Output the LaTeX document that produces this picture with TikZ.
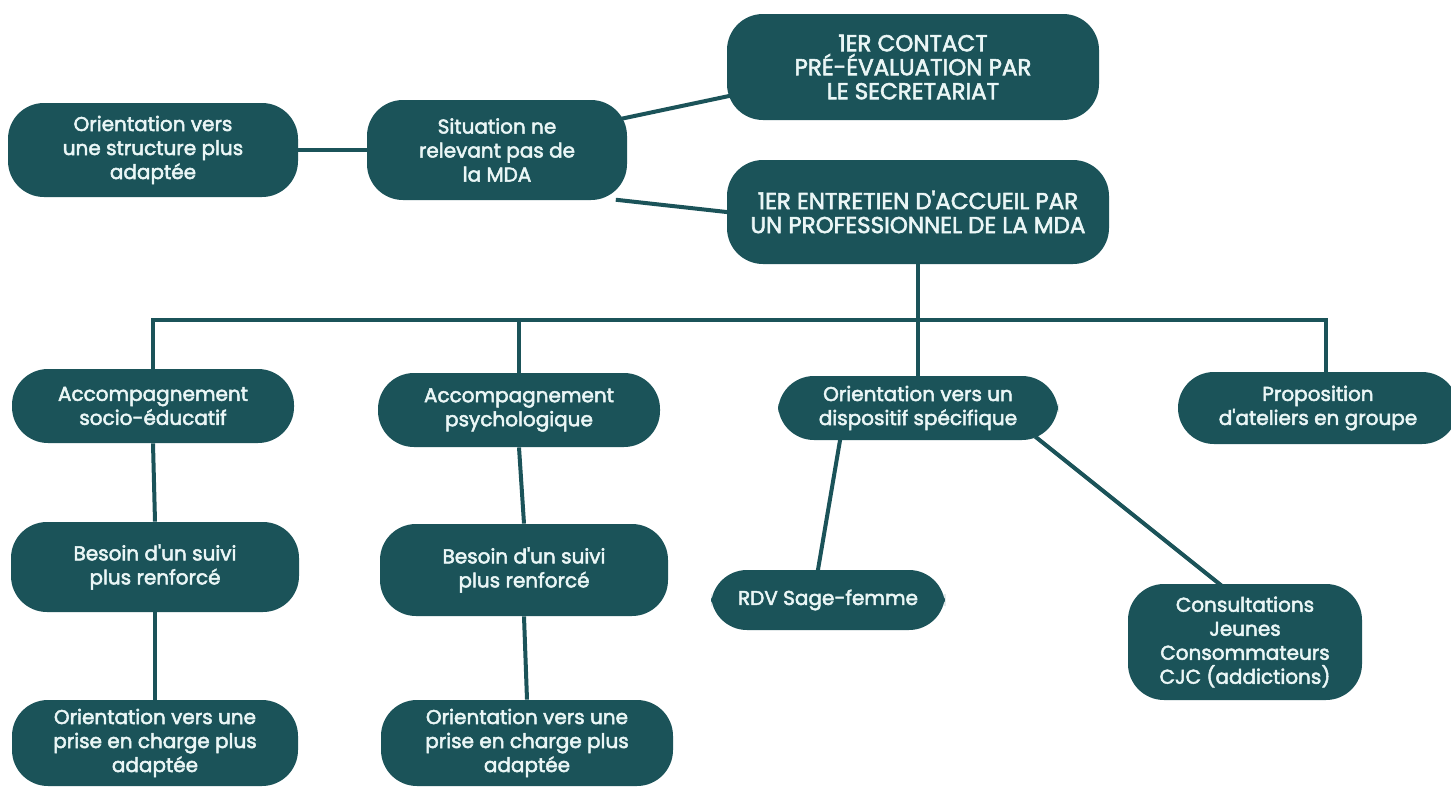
\documentclass[tikz,border=0pt]{standalone}
\usepackage{fontspec}
\setmainfont{Poppins}
\newfontfamily\etapefont{Poppins}[FakeBold=2.5]
\usetikzlibrary{backgrounds}
\definecolor{mdateal}{HTML}{1B5359}
\definecolor{mdatext}{HTML}{EAF6F6}

\begin{document}
\begin{tikzpicture}[x=0.5pt,y=-0.5pt,
    etape/.style={fill=mdateal, rounded corners=18pt, text=mdatext, align=center,
        font=\etapefont\fontsize{10}{12}\selectfont, inner sep=0pt},
    titre/.style={etape, font=\etapefont\fontsize{11.5}{12}\selectfont},
    lien/.style={draw=mdateal, line width=2pt},
    biais/.style={lien, shorten <=-3pt, shorten >=-3pt}]
    \useasboundingbox (0,0) rectangle (1451,787);
    %% haut
    \node[titre, minimum width=186pt, minimum height=53pt] (contact) at (913,67)
        {1ER CONTACT\\PRÉ-ÉVALUATION PAR\\LE SECRETARIAT};
    \node[etape, minimum width=130pt, minimum height=50pt] (situation) at (497,150)
        {Situation ne\\relevant pas de\\la MDA};
    \node[etape, minimum width=145pt, minimum height=47pt] (structure) at (153,150)
        {Orientation vers\\une structure plus\\adaptée};
    \node[titre, minimum width=191pt, minimum height=52pt] (entretien) at (918,212)
        {1ER ENTRETIEN D'ACCUEIL PAR\\UN PROFESSIONNEL DE LA MDA};
    \coordinate (bus) at (918,320);
    %% ligne 2
    \node[etape, minimum width=141pt, minimum height=37pt] (socio) at (153,406)
        {Accompagnement\\socio-éducatif};
    \node[etape, minimum width=141pt, minimum height=37pt] (psycho) at (519,410)
        {Accompagnement\\psychologique};
    \node[etape, minimum width=140pt, minimum height=32pt] (dispositif) at (918,408)
        {Orientation vers un\\dispositif spécifique};
    \node[etape, minimum width=140pt, minimum height=36pt] (ateliers) at (1318,408)
        {Proposition\\d'ateliers en groupe};
    %% ligne 3
    \node[etape, minimum width=144pt, minimum height=45pt] (besoinA) at (155,567)
        {Besoin d'un suivi\\plus renforcé};
    \node[etape, minimum width=144pt, minimum height=46pt] (besoinB) at (524,570)
        {Besoin d'un suivi\\plus renforcé};
    \node[etape, minimum width=117pt, minimum height=30pt] (rdv) at (828,600)
        {RDV Sage-femme};
    \node[etape, minimum width=117pt, minimum height=58pt] (cjc) at (1245,642)
        {Consultations\\Jeunes\\Consommateurs\\CJC (addictions)};
    %% ligne 4
    \node[etape, minimum width=143pt, minimum height=43pt] (orientA) at (155,743)
        {Orientation vers une\\prise en charge plus\\adaptée};
    \node[etape, minimum width=146pt, minimum height=43pt] (orientB) at (527,743)
        {Orientation vers une\\prise en charge plus\\adaptée};
    % liaisons
    \begin{scope}[on background layer]
        \draw[lien] (structure.east) -- (situation.west);
        \draw[biais] (situation.14) -- (contact.189);
        \draw[biais] (situation.-22) -- (entretien.west);
        \draw[lien] (entretien.south) -- (bus);
        \draw[lien] (socio.north) |- (bus);
        \draw[lien] ([xshift=4pt]ateliers.north) |- (bus);
        \draw[lien] (psycho.north) -- (psycho.north |- bus);
        \draw[lien] (dispositif.north) -- (bus);
        \draw[lien] (socio.south) -- (besoinA.north);
        \draw[lien] (psycho.south) -- (besoinB.north);
        \draw[lien] (besoinA.south) -- (orientA.north);
        \draw[lien] (besoinB.south) -- (orientB.north);
        \draw[biais] ([xshift=-39pt]dispositif.south) -- ([xshift=-5pt]rdv.north);
        \draw[biais] ([xshift=61pt]dispositif.south) -- ([xshift=-13pt]cjc.north);
    \end{scope}
\end{tikzpicture}
\end{document}
